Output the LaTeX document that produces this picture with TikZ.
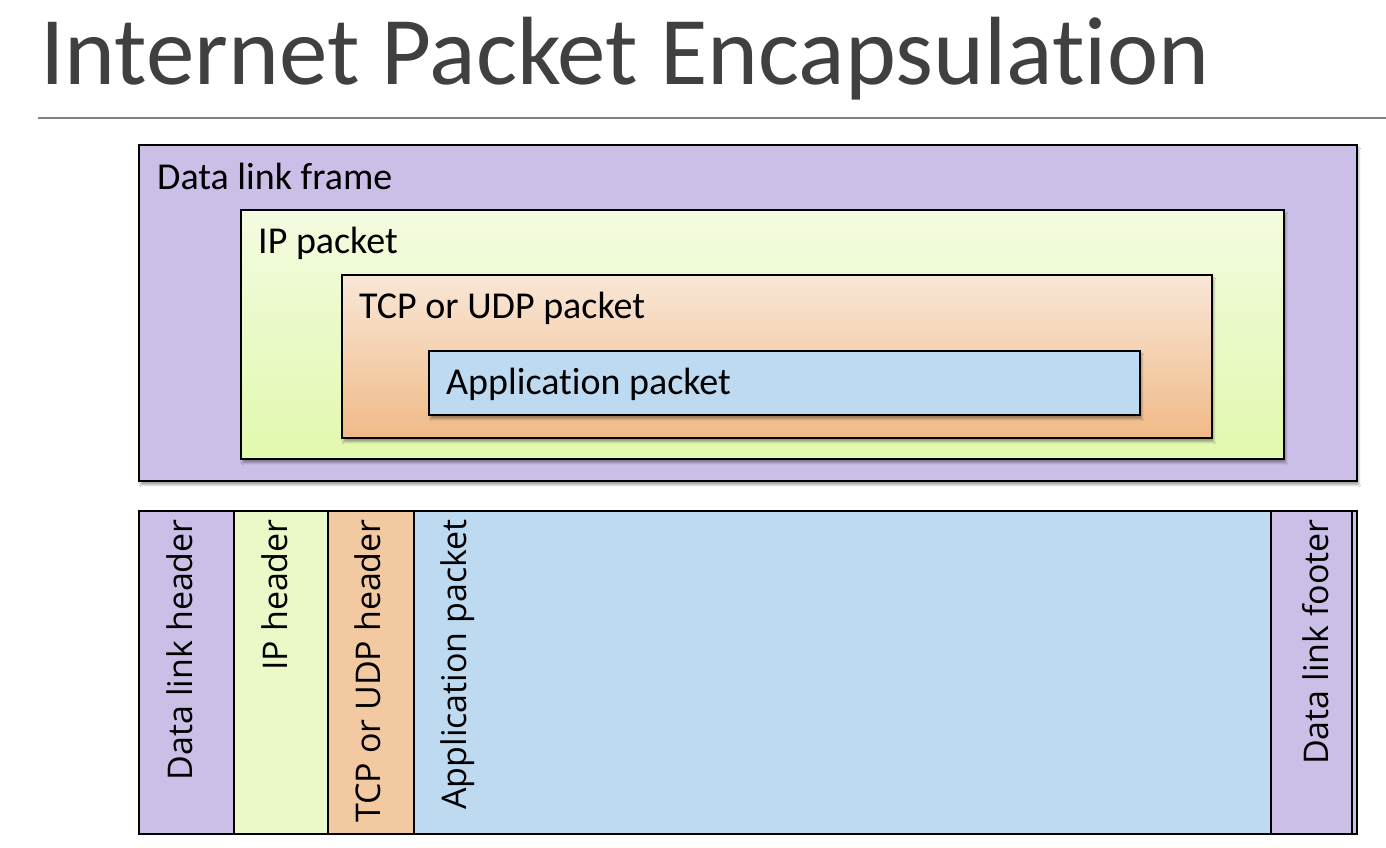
\documentclass[tikz,border=0pt]{standalone}
\usepackage{fontspec}
\setmainfont{Carlito}[Ligatures={NoCommon}]
\newfontfamily\segoe{Open Sans}
\usetikzlibrary{shadows.blur}
\definecolor{dlpurple}{RGB}{203,191,231}
\definecolor{iptop}{RGB}{243,251,224}
\definecolor{ipbot}{RGB}{226,249,174}
\definecolor{iphead}{RGB}{235,249,200}
\definecolor{tcptop}{RGB}{249,231,215}
\definecolor{tcpbot}{RGB}{240,186,135}
\definecolor{tcphead}{RGB}{242,201,160}
\definecolor{appblue}{RGB}{189,218,241}
\definecolor{titlegray}{RGB}{64,64,64}
\definecolor{rulegray}{RGB}{128,128,128}
\tikzset{
  box/.style={draw=black, line width=1.8pt, rectangle, inner sep=0pt, anchor=north west},
  shad/.style={blur shadow={shadow xshift=2pt, shadow yshift=-4pt, shadow blur steps=6, shadow opacity=35}},
  boxlabel/.style={anchor=base west, inner sep=0pt, font=\fontsize{38}{44}\selectfont},
  vlabel/.style={rotate=90, anchor=base east, inner sep=0pt, font=\segoe\fontsize{34}{40}\selectfont},
  col/.style={draw=black, line width=1.6pt, rectangle, inner sep=0pt, anchor=north west, minimum height=323pt},
}
\begin{document}
\begin{tikzpicture}[x=1pt,y=-1pt]
\useasboundingbox (0,0) rectangle (1386,848);
\fill[white] (0,0) rectangle (1386,848);
% title
\node[anchor=base west, inner sep=0pt, text=titlegray, font=\fontsize{97}{102}\selectfont] (title) at (40,85) {Internet Packet Encapsulation};
\coordinate (r1) at (38,118);
\coordinate (r2) at (1386,118);
\draw[rulegray, line width=1.6pt] (r1) -- (r2);
% nested boxes
\node[box, shad, fill=dlpurple, minimum width=1218pt, minimum height=336pt] (frame) at (138,144) {};
\node[box, shad, top color=iptop, bottom color=ipbot, minimum width=1043pt, minimum height=249pt] (ip) at (240,209) {};
\node[box, shad, top color=tcptop, bottom color=tcpbot, minimum width=870pt, minimum height=163pt] (tcp) at (341,274) {};
\node[box, shad, fill=appblue, minimum width=711pt, minimum height=64pt] (app) at (428,350) {};
\node[boxlabel] (frameL) at (157,189) {Data link frame};
\node[boxlabel] (ipL) at (258,253) {IP packet};
\node[boxlabel] (tcpL) at (359,318) {TCP or UDP packet};
\node[boxlabel] (appL) at (446,394) {Application packet};
% packet layout
\node[col, fill=dlpurple, minimum width=95pt] (dlh) at (138,510) {};
\node[col, fill=iphead, minimum width=94pt] (iph) at (233,510) {};
\node[col, fill=tcphead, minimum width=86pt] (tcph) at (327,510) {};
\node[col, fill=appblue, minimum width=857pt] (apph) at (413,510) {};
\node[col, fill=dlpurple, minimum width=81pt] (dlf) at (1270,510) {};
\node[col, fill=dlpurple, minimum width=5pt] (strip) at (1351,510) {};
\node[vlabel] (dlhL) at (192,519) {Data link header};
\node[vlabel] (iphL) at (287,519) {IP header};
\node[vlabel] (tcphL) at (380,519) {TCP or UDP header};
\node[vlabel] (apphL) at (466,519) {Application packet};
\node[vlabel] (dlfL) at (1328,519) {Data link footer};
\end{tikzpicture}
\end{document}
